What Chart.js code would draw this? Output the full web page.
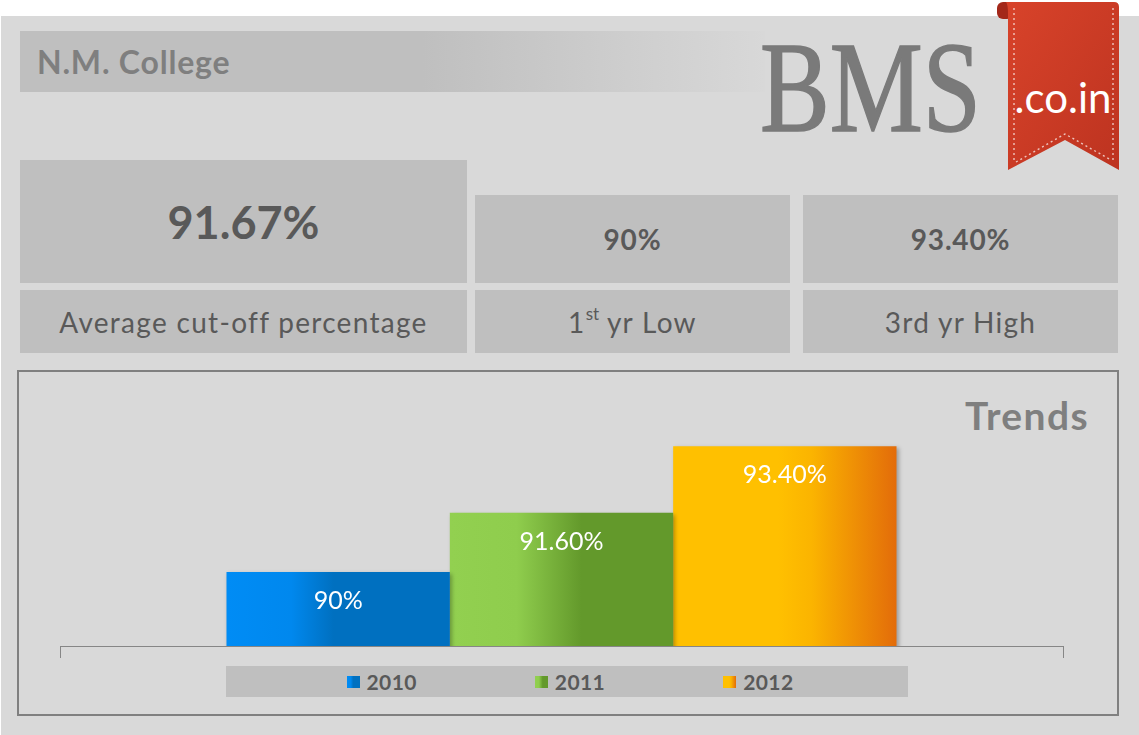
<!DOCTYPE html>
<html>
<head>
<meta charset="utf-8">
<script src="https://cdn.jsdelivr.net/npm/chart.js@4.4.1/dist/chart.umd.min.js"></script>
<style>
  html, body { margin: 0; padding: 0; background: #ffffff; }
  body { width: 1139px; height: 735px; position: relative; overflow: hidden; font-family: Lato, "Open Sans", sans-serif; }
  .abs { position: absolute; box-sizing: border-box; }
  .panel { left: 1px; top: 16px; width: 1138px; height: 719px; background: #d9d9d9; }
  .titlebar { left: 20px; top: 31px; width: 745px; height: 61px;
    background: linear-gradient(to right, #bfbfbf 0%, #bfbfbf 54%, #d8d8d8 100%);
    color: #7f7f7f; font-weight: bold; font-size: 32px; letter-spacing: 0.8px; padding-left: 17px;
    display: flex; align-items: center; }
  .card { background: #bfbfbf; color: #595959; display: flex; align-items: center; justify-content: center; }
  .big { font-weight: bold; font-size: 45px; }
  .val { font-weight: bold; font-size: 28px; letter-spacing: 0.8px; }
  .lbl { font-size: 28px; letter-spacing: 1.3px; }
  .lbl sup { font-size: 17px; position: relative; top: -2px; letter-spacing: 0; }
  .chartbox { left: 17px; top: 370px; width: 1102px; height: 346px; border: 2px solid #808080; }
  .trends { right: 50px; top: 392px; font-weight: bold; font-size: 39px; letter-spacing: 1.4px; color: #7f7f7f; }
  .legend { left: 226px; top: 666px; width: 682px; height: 31px; background: #bfbfbf;
    display: flex; align-items: center; justify-content: center; gap: 118px; padding-left: 6px; }
  .legend .item { display: flex; align-items: center; gap: 7px; color: #595959; font-weight: bold; font-size: 21px; letter-spacing: 0.4px; }
  .legend .sw { width: 13px; height: 12px; }
</style>
</head>
<body>
<div class="abs panel"></div>
<div class="abs titlebar">N.M. College</div>

<svg class="abs" style="left:740px;top:0" width="399" height="180">
  <defs>
    <linearGradient id="rib" x1="0" y1="0" x2="1" y2="1">
      <stop offset="0" stop-color="#d8432a"/>
      <stop offset="1" stop-color="#bd3320"/>
    </linearGradient>
  </defs>
  <text x="20" y="131" font-family="Liberation Serif, DejaVu Serif, serif" font-size="130" fill="#7a7a7a"
        stroke="#7a7a7a" stroke-width="1.6" textLength="221" lengthAdjust="spacingAndGlyphs">BMS</text>
  <rect x="257" y="2" width="16" height="17" rx="6" fill="#a3281a"/>
  <path d="M266,2 L374,2 Q379,2 379,7 L379,170 L325,140 L268,170 L268,14 Q268,4 266,2 Z" fill="url(#rib)"/>
  <path d="M274,8 L274,160 M373,8 L373,160 M276,162 L325,134 L371,160" fill="none"
        stroke="rgba(255,255,255,0.7)" stroke-width="1.4" stroke-dasharray="2 3"/>
  <text x="323" y="113" text-anchor="middle" font-family="Lato, 'Open Sans', sans-serif" font-size="42" fill="#ffffff">.co.in</text>
</svg>

<div class="abs card big" style="left:20px;top:160px;width:447px;height:123px;">91.67%</div>
<div class="abs card lbl" style="left:20px;top:290px;width:447px;height:63px;">Average cut-off percentage</div>
<div class="abs card val" style="left:475px;top:195px;width:315px;height:88px;">90%</div>
<div class="abs card lbl" style="left:475px;top:290px;width:315px;height:63px;"><span>1<sup>st</sup> yr Low</span></div>
<div class="abs card val" style="left:803px;top:195px;width:315px;height:88px;">93.40%</div>
<div class="abs card lbl" style="left:803px;top:290px;width:315px;height:63px;">3rd yr High</div>

<div class="abs chartbox"></div>
<div class="abs trends">Trends</div>

<div class="abs" style="left:40px;top:400px;width:1050px;height:262px;">
  <canvas id="trend"></canvas>
</div>
<div class="abs legend" id="legend"></div>

<script>
// cut-off trend, one group of three yearly bars
const years = ['2010', '2011', '2012'];
const cutoffs = [90, 91.6, 93.4];
const valueLabels = ['90%', '91.60%', '93.40%'];
const yMin = 88;
const yMax = 94;

// horizontal gradient stops per year
const barStops = [
  [[0, '#008cf5'], [0.29, '#0088ee'], [0.48, '#0070c0'], [1, '#0070c0']],
  [[0, '#92d050'], [0.3, '#8fcd4d'], [0.59, '#63992b'], [1, '#63992b']],
  [[0, '#ffc000'], [0.47, '#ffc000'], [0.62, '#fbb400'], [1, '#e36c0a']]
];

function cssGradient(stops) {
  return 'linear-gradient(to right, ' + stops.map(s => s[1] + ' ' + (s[0] * 100) + '%').join(', ') + ')';
}

// html legend
const legendEl = document.getElementById('legend');
years.forEach((y, i) => {
  const item = document.createElement('div');
  item.className = 'item';
  const sw = document.createElement('div');
  sw.className = 'sw';
  sw.style.background = cssGradient(barStops[i]);
  const t = document.createElement('span');
  t.textContent = y;
  item.appendChild(sw);
  item.appendChild(t);
  legendEl.appendChild(item);
});

const gradientBars = {
  id: 'gradientBars',
  beforeDatasetsDraw(chart) {
    const ctx = chart.ctx;
    chart.data.datasets.forEach((ds, i) => {
      chart.getDatasetMeta(i).data.forEach(bar => {
        const left = bar.x - bar.width / 2;
        const g = ctx.createLinearGradient(left, 0, left + bar.width, 0);
        barStops[i].forEach(s => g.addColorStop(s[0], s[1]));
        bar.options.backgroundColor = g;
      });
    });
    ctx.save();
    ctx.shadowColor = 'rgba(0,0,0,0.28)';
    ctx.shadowBlur = 4;
    ctx.shadowOffsetX = 2;
    ctx.shadowOffsetY = 2;
  },
  afterDatasetsDraw(chart) {
    const ctx = chart.ctx;
    ctx.restore();
    ctx.save();
    ctx.fillStyle = '#ffffff';
    ctx.font = '25px Lato, "Open Sans", sans-serif';
    ctx.textAlign = 'center';
    ctx.textBaseline = 'middle';
    chart.data.datasets.forEach((ds, i) => {
      chart.getDatasetMeta(i).data.forEach(bar => {
        ctx.fillText(valueLabels[i], bar.x, bar.y + 29);
      });
    });
    ctx.restore();
  }
};

new Chart(document.getElementById('trend'), {
  type: 'bar',
  data: {
    labels: [''],
    datasets: years.map((y, i) => ({
      label: y,
      data: [cutoffs[i]],
      backgroundColor: barStops[i][0][1],
      borderWidth: 0,
      categoryPercentage: 0.668,
      barPercentage: 1
    }))
  },
  options: {
    responsive: true,
    maintainAspectRatio: false,
    animation: false,
    layout: { padding: { left: 20, right: 27, top: 24, bottom: 2 } },
    plugins: {
      legend: { display: false },
      tooltip: { enabled: false }
    },
    scales: {
      x: {
        offset: true,
        grid: { display: true, drawOnChartArea: false, drawTicks: true, tickLength: 12, color: '#868686', offset: true },
        border: { display: true, color: '#868686', width: 1 },
        ticks: { display: false },
        afterFit(s) { s.height = 14; }
      },
      y: {
        display: false,
        min: yMin,
        max: yMax
      }
    }
  },
  plugins: [gradientBars]
});
</script>
</body>
</html>
